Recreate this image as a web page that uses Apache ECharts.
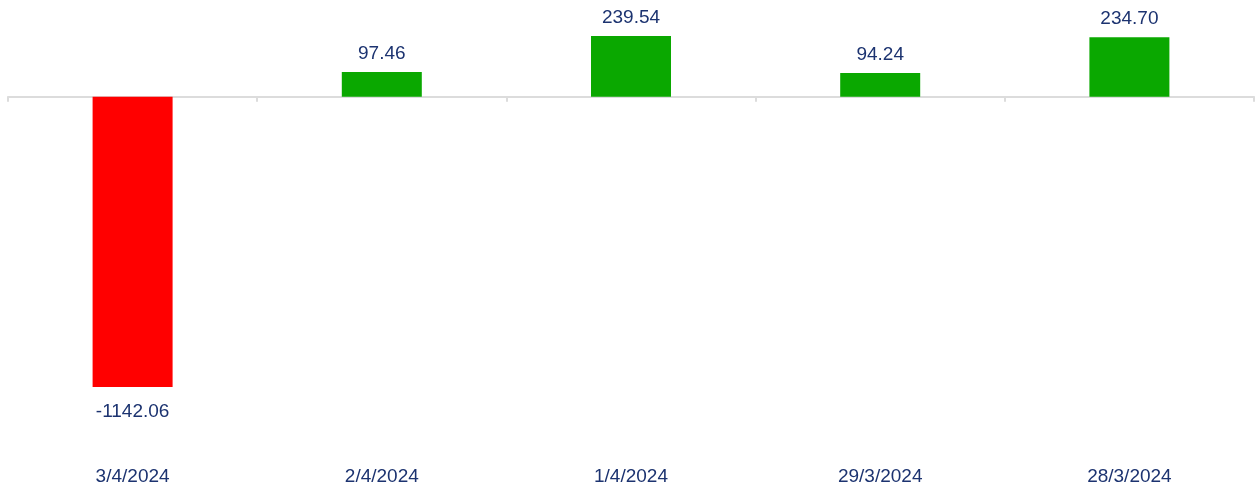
<!DOCTYPE html>
<html>
<head>
<meta charset="utf-8">
<script src="https://cdn.jsdelivr.net/npm/echarts@6/dist/echarts.min.js"></script>
<style>html,body{margin:0;padding:0;background:#fff;}#c{width:1256px;height:489px;}</style>
</head>
<body>
<div id="c"></div>
<script>
const categories = ['3/4/2024', '2/4/2024', '1/4/2024', '29/3/2024', '28/3/2024'];
const values = [-1142.06, 97.46, 239.54, 94.24, 234.70];

const textColor = '#1c3370';
const font = 'Liberation Sans, Arial, sans-serif';
const chart = echarts.init(document.getElementById('c'));
chart.setOption({
  animation: false,
  grid: { left: 8, right: 2, top: 36, bottom: 102 },
  xAxis: [
    {
      type: 'category', data: categories,
      axisLine: { onZero: true, lineStyle: { color: '#dcdcdc', width: 2 } },
      axisTick: { show: true, length: 5, lineStyle: { color: '#dcdcdc', width: 2 } },
      axisLabel: { show: false }
    },
    {
      type: 'category', data: categories, position: 'bottom', offset: 72,
      axisLine: { show: false }, axisTick: { show: false },
      axisLabel: { show: true, margin: 8, color: textColor, fontSize: 19, fontFamily: font }
    }
  ],
  yAxis: { type: 'value', show: false, min: 'dataMin', max: 'dataMax', splitLine: { show: false } },
  series: [{
    type: 'bar', xAxisIndex: 0, barWidth: 80,
    data: values.map(v => ({
      value: v,
      itemStyle: { color: v < 0 ? '#ff0000' : '#0aa800' },
      label: { position: v < 0 ? 'bottom' : 'top', distance: v < 0 ? 15 : 9 }
    })),
    label: {
      show: true, color: textColor, fontSize: 19, fontFamily: font,
      formatter: p => p.value.toFixed(2)
    }
  }]
});
</script>
</body>
</html>
